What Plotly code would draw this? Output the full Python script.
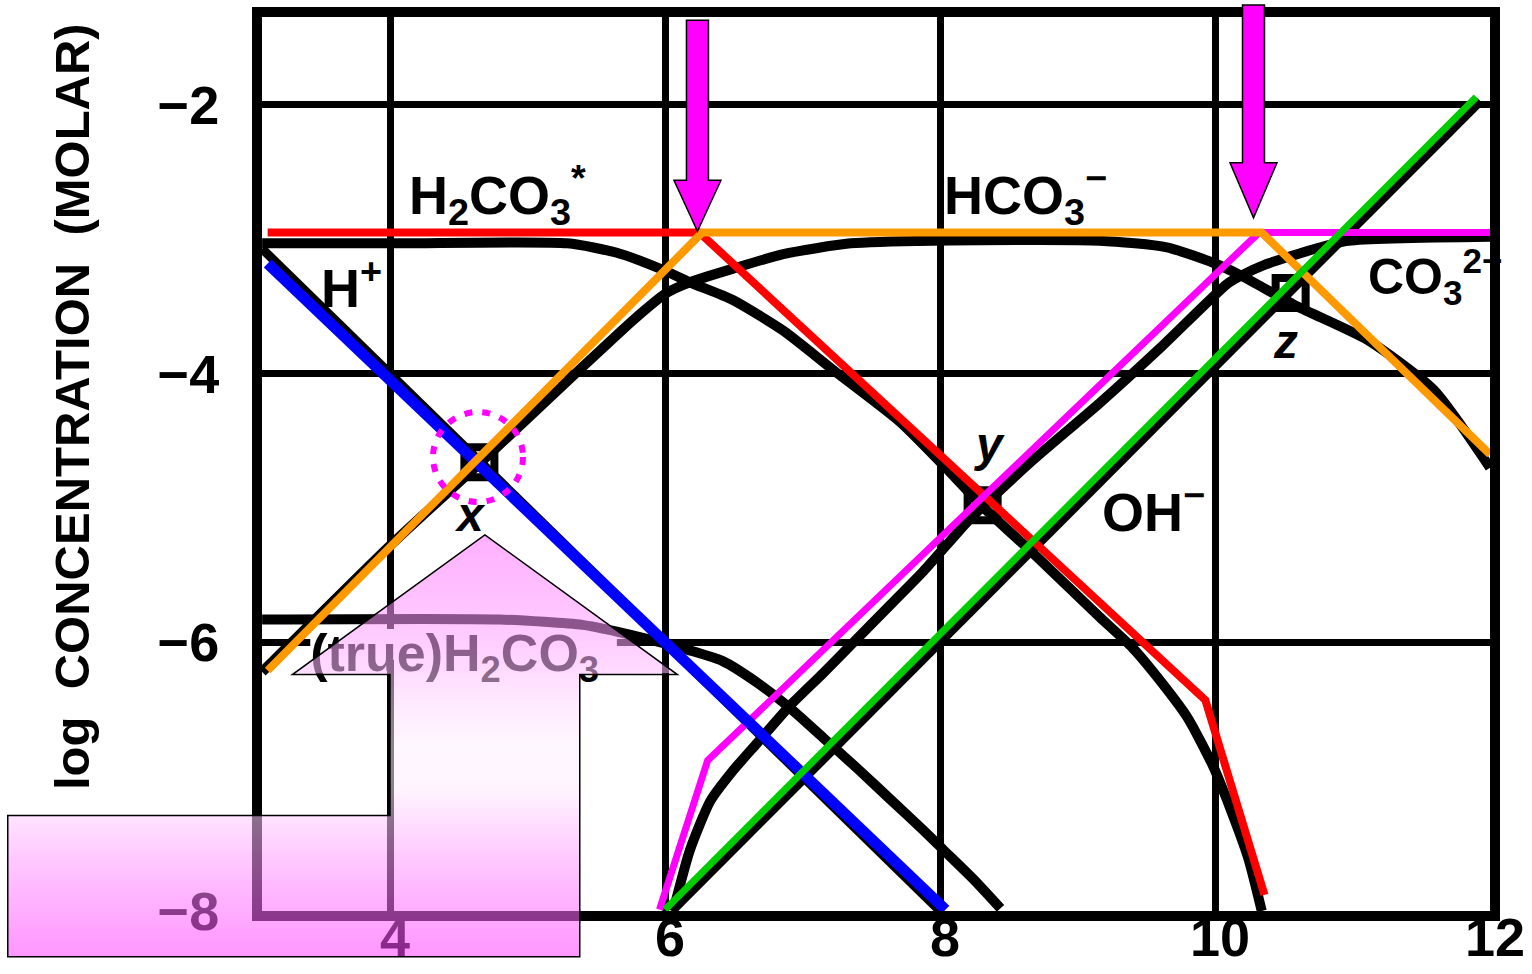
import plotly.graph_objects as go

# ---- axes ---------------------------------------------------------------
X_RANGE = [3.069, 12.0]      # pH
Y_RANGE = [-8.0, -1.345]     # log concentration (molar)
x_ticks = [4, 6, 8, 10, 12]
y_ticks = [-8, -6, -4, -2]

FIG_W, FIG_H = 1532, 974
M_L, M_R, M_T, M_B = 262, 42, 17, 63
PLOT_W = FIG_W - M_L - M_R
PLOT_H = FIG_H - M_T - M_B

HAND = "Liberation Sans, Arial, sans-serif"
MAGENTA = "#ff00ff"

# ---- species curves, closed carbonate system ----------------------------
h2co3s_ph = [3.07, 4.07, 5.29, 5.65, 5.99, 6.18, 6.49, 6.86, 7.22, 7.71, 8.07,
             8.31, 8.68, 9.16, 9.40, 9.55, 9.80, 9.99, 10.09, 10.24, 10.34]
h2co3s_log = [-3.03, -3.03, -3.03, -3.10, -3.23, -3.32, -3.45, -3.68, -3.97, -4.36, -4.73,
              -4.99, -5.34, -5.81, -6.04, -6.22, -6.56, -6.93, -7.18, -7.60, -8.0]

hco3_ph = [3.07, 4.00, 4.65, 5.40, 5.77, 6.01, 6.18, 6.49, 6.86, 7.35, 7.95,
           9.16, 9.65, 10.00, 10.19, 10.60, 11.11, 11.59, 12.0]
hco3_log = [-6.22, -5.28, -4.67, -3.95, -3.60, -3.40, -3.32, -3.22, -3.11, -3.03, -3.01,
            -3.01, -3.06, -3.18, -3.27, -3.50, -3.75, -4.12, -4.70]

co3_ph = [6.06, 6.18, 6.33, 6.49, 6.67, 6.91, 7.15, 7.40, 7.64, 7.88, 8.20, 8.31,
          8.68, 9.16, 9.60, 10.09, 10.19, 10.36, 10.73, 10.97, 12.0]
co3_log = [-8.0, -7.55, -7.18, -6.96, -6.75, -6.47, -6.23, -5.97, -5.72, -5.47, -5.10, -4.99,
           -4.64, -4.22, -3.81, -3.33, -3.27, -3.19, -3.07, -3.01, -2.98]

true_h2co3_ph = [3.07, 4.80, 5.40, 5.65, 5.89, 6.18, 6.42, 6.67, 6.91, 7.15,
                 7.40, 7.64, 7.88, 8.02, 8.24, 8.44]
true_h2co3_log = [-5.83, -5.83, -5.87, -5.92, -5.98, -6.06, -6.14, -6.30, -6.49, -6.71,
                  -6.94, -7.17, -7.40, -7.54, -7.76, -7.98]

h_ion_ph, h_ion_log = [3.07, 8.0], [-3.07, -8.0]
oh_ion_ph, oh_ion_log = [6.05, 11.93], [-8.0, -1.97]

# equivalence points x, y, z
eq_names = ["x", "y", "z"]
eq_ph = [4.65, 8.31, 10.55]
eq_log = [-4.66, -4.98, -3.40]

# ---- coloured asymptote sketches -----------------------------------------
red_ph, red_log = [3.11, 6.25, 9.93, 10.36], [-2.95, -2.95, -6.43, -7.88]
orange_ph, orange_log = [3.11, 6.27, 10.34, 12.0], [-6.21, -2.95, -2.95, -4.60]
magenta_ph, magenta_log = [5.96, 6.31, 10.32, 12.0], [-7.99, -6.88, -2.95, -2.95]
blue_ph, blue_log = [3.11, 8.04], [-3.18, -7.99]
green_ph, green_log = [6.00, 11.90], [-7.99, -1.94]

# pK markers (down arrows): centre pH, tip, head top, shaft top
pk_arrow_ph = [6.236, 10.28]
pk_arrow_tip = [-2.94, -2.84]
pk_arrow_head = [-2.56, -2.43]
pk_arrow_top = [-1.37, -1.255]


def px_x(ph):
    return M_L + (ph - X_RANGE[0]) / (X_RANGE[1] - X_RANGE[0]) * PLOT_W


def px_y(lc):
    return M_T + (Y_RANGE[1] - lc) / (Y_RANGE[1] - Y_RANGE[0]) * PLOT_H


def paper_x(px):
    return (px - M_L) / PLOT_W


def paper_y(py):
    return (M_T + PLOT_H - py) / PLOT_H


def path_from_px(points):
    parts = [f"{'M' if i == 0 else 'L'} {paper_x(x):.6f},{paper_y(y):.6f}"
             for i, (x, y) in enumerate(points)]
    return " ".join(parts) + " Z"


fig = go.Figure()

black_curves = [
    (h2co3s_ph, h2co3s_log),
    (hco3_ph, hco3_log),
    (co3_ph, co3_log),
    (true_h2co3_ph, true_h2co3_log),
]
for xs, ys in black_curves:
    fig.add_trace(go.Scatter(x=xs, y=ys, mode="lines",
                             line=dict(color="black", width=10, shape="spline", smoothing=0.6),
                             hoverinfo="skip"))
for xs, ys in [(h_ion_ph, h_ion_log), (oh_ion_ph, oh_ion_log)]:
    fig.add_trace(go.Scatter(x=xs, y=ys, mode="lines",
                             line=dict(color="black", width=9), hoverinfo="skip"))

fig.add_trace(go.Scatter(x=eq_ph, y=eq_log, mode="markers",
                         marker=dict(symbol="square-open", size=30, color="black",
                                     line=dict(color="black", width=8)),
                         hoverinfo="skip"))

# label sitting under the callout arrow
fig.add_trace(go.Scatter(x=[4.47], y=[-6.12], mode="text",
                         text=["(true)H<sub>2</sub>CO<sub>3</sub>"],
                         textfont=dict(family=HAND, size=52, color="black", weight="bold"),
                         textposition="middle center", hoverinfo="skip"))

for xs, ys, col, w in [
    (red_ph, red_log, "#ff0000", 8),
    (magenta_ph, magenta_log, MAGENTA, 7),
    (blue_ph, blue_log, "#0000ff", 11),
    (orange_ph, orange_log, "#ff9900", 8),
    (green_ph, green_log, "#00cc00", 7),
]:
    fig.add_trace(go.Scatter(x=xs, y=ys, mode="lines",
                             line=dict(color=col, width=w), hoverinfo="skip"))

shapes = []

# white box behind the (true)H2CO3 label, hiding the grid there
shapes.append(dict(type="rect", xref="x", yref="y", x0=3.42, x1=5.65, y0=-6.13, y1=-5.90,
                   fillcolor="white", line=dict(width=0), layer="between"))

# big translucent callout arrow (vertical gradient drawn as thin bands)
tip_x, tip_y = px_x(4.69), px_y(-5.20)
base_y = px_y(-6.24)
head_l, head_r = px_x(3.29), px_x(6.09)
shaft_l, shaft_r = px_x(4.00), px_x(5.38)
bar_top, bar_bot = px_y(-7.29), px_y(-8.34)
bar_l = px_x(1.22)

grad = [(0.00, 111), (0.25, 164), (0.39, 215), (0.50, 240), (0.60, 237),
        (0.77, 155), (0.93, 91), (1.00, 64)]


def grad_green(t):
    for (t0, g0), (t1, g1) in zip(grad[:-1], grad[1:]):
        if t0 <= t <= t1:
            return g0 + (g1 - g0) * (t - t0) / (t1 - t0)
    return grad[-1][1]


def span_at(y):
    if y <= base_y:
        f = (y - tip_y) / (base_y - tip_y)
        return tip_x - f * (tip_x - head_l), tip_x + f * (head_r - tip_x)
    if y <= bar_top:
        return shaft_l, shaft_r
    return bar_l, shaft_r


y0i, y1i = round(tip_y), round(bar_bot)
rows = sorted(set(list(range(y0i, y1i, 3)) + [y1i, round(base_y), round(bar_top)]))
for ya, yb in zip(rows[:-1], rows[1:]):
    mid = 0.5 * (ya + yb)
    t = (mid - tip_y) / (bar_bot - tip_y)
    g = int(round(grad_green(t)))
    col = f"rgba(255,{g},255,0.55)"
    if yb <= round(base_y) + 0.01:
        la, ra = span_at(ya)
        lb, rb = span_at(yb)
        pts = [(la, ya), (ra, ya), (rb, yb), (lb, yb)]
    else:
        l, r = span_at(mid)
        pts = [(l, ya), (r, ya), (r, yb), (l, yb)]
    shapes.append(dict(type="path", xref="paper", yref="paper", path=path_from_px(pts),
                       fillcolor=col, line=dict(width=0), layer="above"))

outline = [(tip_x, tip_y), (head_r, base_y), (shaft_r, base_y), (shaft_r, bar_bot),
           (bar_l, bar_bot), (bar_l, bar_top), (shaft_l, bar_top), (shaft_l, base_y),
           (head_l, base_y)]
shapes.append(dict(type="path", xref="paper", yref="paper", path=path_from_px(outline),
                   fillcolor="rgba(0,0,0,0)", line=dict(color="black", width=1.5), layer="above"))

# magenta pK arrows
for cx, tip, head, top in zip(pk_arrow_ph, pk_arrow_tip, pk_arrow_head, pk_arrow_top):
    c = px_x(cx)
    sh, hh = 11, 23.5
    pts = [(c - sh, px_y(top)), (c + sh, px_y(top)), (c + sh, px_y(head)),
           (c + hh, px_y(head)), (c, px_y(tip)), (c - hh, px_y(head)), (c - sh, px_y(head))]
    shapes.append(dict(type="path", xref="paper", yref="paper", path=path_from_px(pts),
                       fillcolor=MAGENTA, line=dict(color="black", width=1.5), layer="above"))

# dotted ring round the x point
rx, ry = 45 / 137.5, 45 / 134.33
shapes.append(dict(type="circle", xref="x", yref="y",
                   x0=4.64 - rx, x1=4.64 + rx, y0=-4.62 - ry, y1=-4.62 + ry,
                   line=dict(color=MAGENTA, width=6, dash="8px,10px"), layer="above"))

lab = dict(family=HAND, size=54, color="black", weight="bold")
ital = dict(family=HAND, size=48, color="black", weight="bold", style="italic")
annotations = [
    dict(x=4.78, y=-2.67, text="H<sub>2</sub>CO<sub>3</sub><sup>*</sup>", font=lab),
    dict(x=8.62, y=-2.67, text="HCO<sub>3</sub><sup>\u2212</sup>", font=lab),
    dict(x=11.60, y=-3.28, text="CO<sub>3</sub><sup>2\u2212</sup>",
         font=dict(lab, size=50)),
    dict(x=3.72, y=-3.33, text="H<sup>+</sup>", font=lab),
    dict(x=9.55, y=-5.0, text="OH<sup>\u2212</sup>", font=lab),
]
for name, xx, yy in zip(eq_names, [4.58, 8.36, 10.51], [-5.05, -4.53, -3.76]):
    annotations.append(dict(x=xx, y=yy, text=name, font=ital))
for a in annotations:
    a.update(xref="x", yref="y", showarrow=False, xanchor="center", yanchor="middle")

annotations.append(dict(x=paper_x(72), y=paper_y(407), xref="paper", yref="paper",
                        text="log  CONCENTRATION  (MOLAR)", textangle=-90, showarrow=False,
                        font=dict(family=HAND, size=49, color="black", weight="bold"),
                        xanchor="center", yanchor="middle"))

axis_common = dict(showgrid=True, gridcolor="black", gridwidth=7, zeroline=False,
                   showline=True, mirror=True, linecolor="black", linewidth=10,
                   automargin=False, ticks="",
                   tickfont=dict(family=HAND, size=54, color="black", weight="bold"))

fig.update_layout(
    width=FIG_W, height=FIG_H,
    margin=dict(l=M_L, r=M_R, t=M_T, b=M_B, pad=0, autoexpand=False),
    paper_bgcolor="white", plot_bgcolor="white",
    showlegend=False,
    xaxis=dict(range=X_RANGE, tickvals=x_ticks, ticklabelstandoff=-30, ticklabelshift=5,
               **axis_common),
    yaxis=dict(range=Y_RANGE, tickvals=y_ticks, ticklabelstandoff=22, **axis_common),
    shapes=shapes,
    annotations=annotations,
)

fig.write_html("out.html")
